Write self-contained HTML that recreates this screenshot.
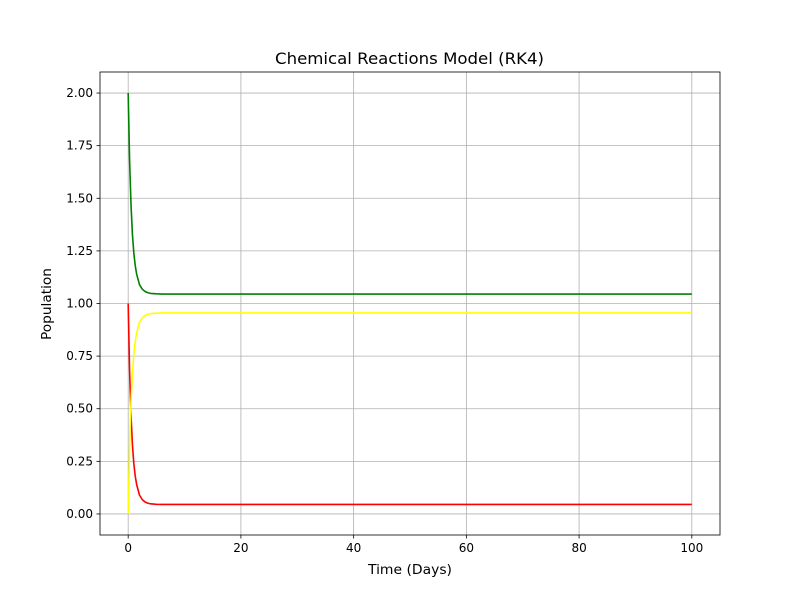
<!DOCTYPE html>
<html><head><meta charset="utf-8"><style>body{margin:0;background:#fff}svg{display:block;font-family:"DejaVu Sans","Liberation Sans",sans-serif}</style></head>
<body>
<svg id="c" width="800" height="600"></svg>
<script>
const times=[0,0.25,0.5,0.75,1,1.25,1.5,2,2.5,3,3.5,4,5,6,8,10,100];
const greenVals=[2.0,1.68,1.47,1.33,1.24,1.18,1.14,1.09,1.068,1.057,1.051,1.048,1.046,1.045,1.045,1.045,1.045];
const redVals=[1.0,0.68,0.47,0.33,0.24,0.18,0.14,0.09,0.068,0.057,0.051,0.048,0.046,0.045,0.045,0.045,0.045];
const yellowVals=[0,0.32,0.53,0.67,0.76,0.82,0.86,0.91,0.932,0.943,0.949,0.952,0.954,0.955,0.955,0.955,0.955];
const xTicks=[0,20,40,60,80,100];
const yTicks=[0,0.25,0.5,0.75,1,1.25,1.5,1.75,2];
const L=100,R=720,T=72,B=535;
const X=v=>L+(v+5)/110*(R-L);
const Y=v=>B-(v+0.1)/2.2*(B-T);
const s=document.getElementById('c');const NS='http://www.w3.org/2000/svg';
function el(t,a,p){const e=document.createElementNS(NS,t);for(const k in a)e.setAttribute(k,a[k]);(p||s).appendChild(e);return e;}
xTicks.forEach(v=>{const g=el('line',{x1:X(v),x2:X(v),y1:T,y2:B,stroke:'#b0b0b0','stroke-width':0.8});

el('line',{x1:X(v),x2:X(v),y1:B,y2:B+3.5,stroke:'#000','stroke-width':0.8});
const t=el('text',{x:X(v),y:B+17,'text-anchor':'middle','font-size':12});t.textContent=v;
});
yTicks.forEach(v=>{const g=el('line',{x1:L,x2:R,y1:Y(v),y2:Y(v),stroke:'#b0b0b0','stroke-width':0.8});

el('line',{x1:L-3.5,x2:L,y1:Y(v),y2:Y(v),stroke:'#000','stroke-width':0.8});
const t=el('text',{x:L-7,y:Y(v)+4,'text-anchor':'end','font-size':12});t.textContent=v.toFixed(2);
});
[[greenVals,'green','series-green'],[redVals,'red','series-red'],[yellowVals,'yellow','series-yellow']].forEach(([d,c,n])=>{
const p=el('polyline',{points:times.map((t,i)=>X(t)+','+Y(d[i])).join(' '),fill:'none',stroke:c,'stroke-width':1.6,'stroke-linejoin':'round'});
});
const fr=el('rect',{x:L,y:T,width:R-L,height:B-T,fill:'none',stroke:'#000','stroke-width':0.8});

const ti=el('text',{x:275,y:64,'font-size':16,textLength:269,lengthAdjust:'spacingAndGlyphs'});ti.textContent='Chemical Reactions Model (RK4)';

const xl=el('text',{x:368,y:574,'font-size':13,textLength:84,lengthAdjust:'spacingAndGlyphs'});xl.textContent='Time (Days)';

const yl=el('text',{x:51,y:340,'font-size':13,textLength:72,lengthAdjust:'spacingAndGlyphs',transform:'rotate(-90 51 340)'});yl.textContent='Population';

</script>
</body></html>
